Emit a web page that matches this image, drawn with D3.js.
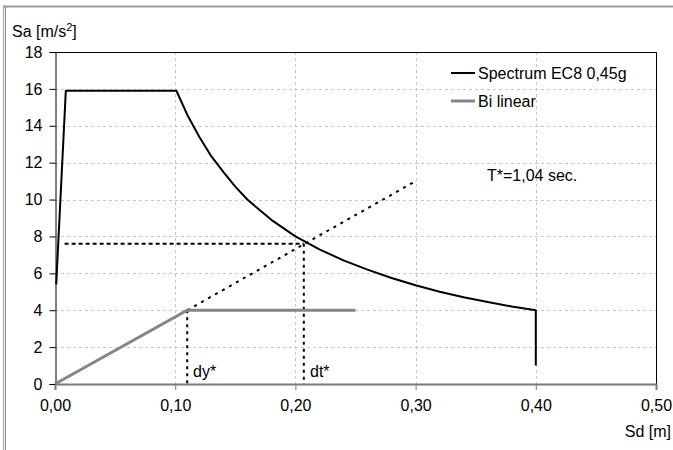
<!DOCTYPE html>
<html>
<head>
<meta charset="utf-8">
<script src="https://cdn.jsdelivr.net/npm/d3@7"></script>
<style>
  html, body { margin: 0; padding: 0; background: #fff; }
  svg { display: block; font-family: "Liberation Sans", Arial, sans-serif; }
</style>
</head>
<body>
<svg id="chart" width="673" height="450"></svg>
<script>
// Elastic spectrum EC8 0,45g in ADRS format (Sd [m], Sa [m/s2])
const spectrumSd = [0.001, 0.009, 0.101, 0.11, 0.12, 0.13, 0.14, 0.15, 0.16, 0.17, 0.18, 0.19, 0.20, 0.22, 0.24, 0.26, 0.28, 0.30, 0.32, 0.34, 0.36, 0.38, 0.40, 0.40];
const spectrumSa = [5.4, 15.9, 15.9, 14.6, 13.4, 12.35, 11.5, 10.7, 10.0, 9.45, 8.9, 8.45, 8.0, 7.3, 6.7, 6.2, 5.75, 5.35, 5.0, 4.7, 4.45, 4.2, 4.0, 1.0];

// Idealised bilinear capacity curve
const bilinearSd = [0, 0.11, 0.25];
const bilinearSa = [0, 4.0, 4.0];

// Elastic period line T* and target displacement construction
const periodLineSd = [0.11, 0.30];
const periodLineSa = [4.0, 11.0];
const dyStar = 0.11, dySa = 4.0;
const dtStar = 0.207, dtSa = 7.6;
const dtLineStartSd = 0.008;

const xTicks = [0, 0.1, 0.2, 0.3, 0.4, 0.5];
const yTicks = [0, 2, 4, 6, 8, 10, 12, 14, 16, 18];

const svg = d3.select("#chart");
const plotLeft = 55, plotRight = 656, plotTop = 52, plotBottom = 384;
const FONT = "Liberation Sans, Arial, sans-serif";

const x = d3.scaleLinear().domain([0, 0.5]).range([plotLeft, plotRight]);
const y = d3.scaleLinear().domain([0, 18]).range([plotBottom, plotTop]);
const fmt = d => d3.format(".2f")(d).replace(".", ",");

// outer frame
svg.append("line").attr("x1", 3.5).attr("x2", 3.5).attr("y1", 6).attr("y2", 450)
  .attr("stroke", "#b8b8b8").attr("stroke-width", 1.5);
svg.append("line").attr("x1", 5.5).attr("x2", 5.5).attr("y1", 6).attr("y2", 450)
  .attr("stroke", "#8c8c8c").attr("stroke-width", 1);
svg.append("line").attr("x1", 3).attr("x2", 673).attr("y1", 6.5).attr("y2", 6.5)
  .attr("stroke", "#9a9a9a").attr("stroke-width", 2);

// gridlines
const grid = svg.append("g").attr("stroke", "#c8c8c8").attr("stroke-dasharray", "3,3").attr("stroke-width", 1);
yTicks.filter(t => t > 0 && t < 18).forEach(t => {
  grid.append("line").attr("x1", plotLeft).attr("x2", plotRight)
    .attr("y1", Math.round(y(t)) + 0.5).attr("y2", Math.round(y(t)) + 0.5);
});
xTicks.filter(t => t > 0).forEach(t => {
  grid.append("line").attr("y1", plotTop).attr("y2", plotBottom)
    .attr("x1", Math.round(x(t)) + 0.5).attr("x2", Math.round(x(t)) + 0.5);
});

// plot frame (top and right)
svg.append("path")
  .attr("d", `M${plotLeft},${plotTop + 0.5}H${plotRight + 0.5}V${plotBottom}`)
  .attr("fill", "none").attr("stroke", "#000").attr("stroke-width", 1);

// axes
const xAxis = d3.axisBottom(x).tickValues(xTicks).tickSize(6).tickPadding(10).tickFormat(fmt);
const gx = svg.append("g").attr("transform", `translate(0,${plotBottom})`).call(xAxis);
gx.select(".domain").attr("stroke", "#7a7a7a").attr("stroke-width", 2);
gx.selectAll(".tick line").attr("stroke", "#7a7a7a");
gx.selectAll("text").attr("font-size", 16).attr("fill", "#000").attr("font-family", FONT);

const yAxis = d3.axisLeft(y).tickValues(yTicks).tickSize(6).tickPadding(7).tickFormat(d3.format("d"));
const gy = svg.append("g").attr("transform", `translate(${plotLeft + 0.5},0)`).call(yAxis);
gy.select(".domain").attr("stroke", "#000");
gy.selectAll(".tick line").attr("stroke", "#000");
gy.selectAll("text").attr("font-size", 16).attr("fill", "#000").attr("font-family", FONT);

// axis titles
const ytitle = svg.append("text").attr("x", 12).attr("y", 37).attr("font-size", 16);
ytitle.append("tspan").text("Sa [m/s");
ytitle.append("tspan").attr("font-size", 11).attr("dy", -6).text("2");
ytitle.append("tspan").attr("dy", 6).text("]");
svg.append("text").attr("x", 671).attr("y", 437).attr("text-anchor", "end")
  .attr("font-size", 16).text("Sd [m]");

const line = d3.line().x(d => x(d[0])).y(d => y(d[1]));

// construction lines
const dash = svg.append("g").attr("fill", "none").attr("stroke", "#000").attr("stroke-width", 2);
dash.append("path").attr("stroke-dasharray", "3,5")
  .attr("d", line(periodLineSd.map((s, i) => [s, periodLineSa[i]])));
dash.append("path").attr("stroke-dasharray", "4,3")
  .attr("d", line([[dtLineStartSd, dtSa], [dtStar, dtSa]]));
dash.append("path").attr("stroke-dasharray", "3,4")
  .attr("d", line([[dtStar, dtSa], [dtStar, 0]]));
dash.append("path").attr("stroke-dasharray", "3,4")
  .attr("d", line([[dyStar, dySa], [dyStar, 0]]));

// bilinear curve
svg.append("path")
  .attr("d", line(bilinearSd.map((s, i) => [s, bilinearSa[i]])))
  .attr("fill", "none").attr("stroke", "#858585").attr("stroke-width", 3);

// spectrum
svg.append("path")
  .attr("d", line(spectrumSd.map((s, i) => [s, spectrumSa[i]])))
  .attr("fill", "none").attr("stroke", "#000").attr("stroke-width", 2)
  .attr("stroke-linejoin", "round");

// annotations
svg.append("text").attr("x", 193).attr("y", 377).attr("font-size", 16).text("dy*");
svg.append("text").attr("x", 310).attr("y", 377).attr("font-size", 16).text("dt*");
svg.append("text").attr("x", 487).attr("y", 181).attr("font-size", 16).text("T*=1,04 sec.");

// legend
const legend = [
  { name: "Spectrum EC8 0,45g", color: "#000", width: 2, cy: 73 },
  { name: "Bi linear", color: "#858585", width: 3, cy: 101 }
];
legend.forEach(l => {
  svg.append("line").attr("x1", 451).attr("x2", 475).attr("y1", l.cy).attr("y2", l.cy)
    .attr("stroke", l.color).attr("stroke-width", l.width);
  svg.append("text").attr("x", 478).attr("y", l.cy + 6).attr("font-size", 16).text(l.name);
});
</script>
</body>
</html>
